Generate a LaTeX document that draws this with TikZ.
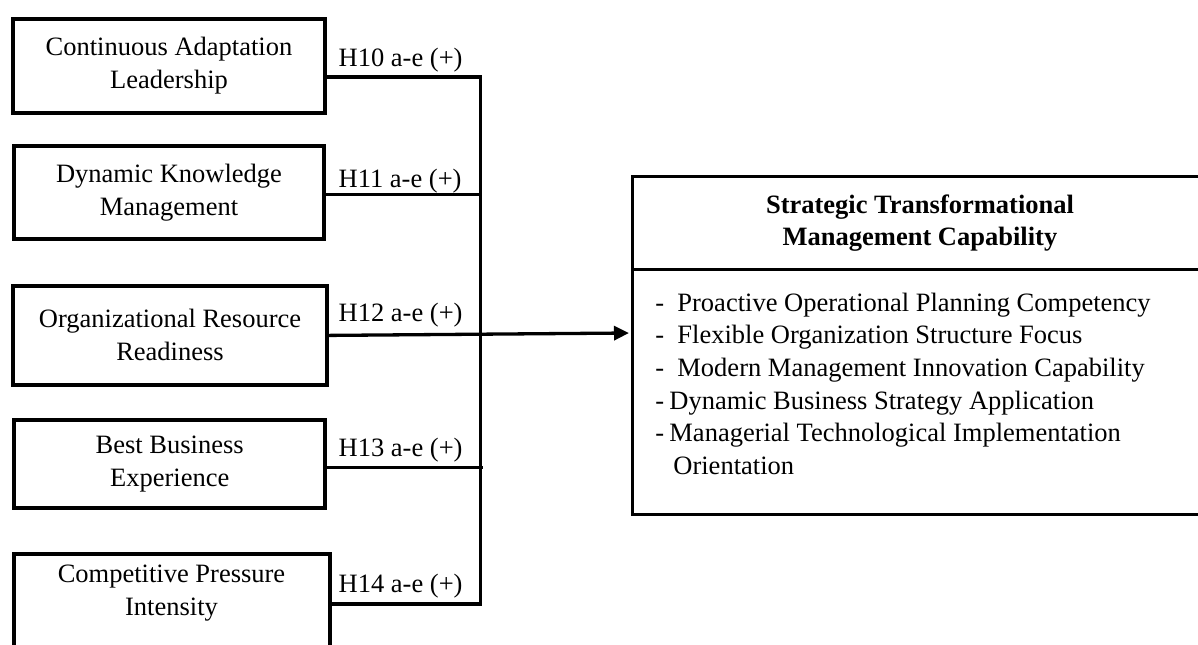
\documentclass[tikz,border=0pt]{standalone}
\usepackage{fontspec}
\setmainfont{Liberation Serif}
\usetikzlibrary{arrows.meta}

\tikzset{
  srcbox/.style={draw, line width=2pt, rectangle, inner sep=0pt, align=center,
    font=\fontsize{13.25pt}{16.5pt}\selectfont},
  srctext/.style={inner sep=0pt, align=center, font=\fontsize{13.25pt}{16.5pt}\selectfont},
  hyp/.style={anchor=base west, inner sep=0pt, font=\fontsize{13.25pt}{16pt}\selectfont},
  item/.style={anchor=base west, inner sep=0pt, font=\fontsize{13.25pt}{16pt}\selectfont},
  link/.style={line width=1.65pt},
  bigbox/.style={draw, line width=1.65pt}
}

\begin{document}
\begin{tikzpicture}[x=0.5pt, y=-0.5pt]
  \useasboundingbox (0,0) rectangle (1198,644);
  \fill[white] (0,0) rectangle (1198,644);
  \clip (0,0) rectangle (1198,644);

  % independent constructs
  \node[srcbox, minimum width=156pt, minimum height=46.85pt] (b1) at (169,65.9)
    {Continuous Adaptation\\Leadership};
  \node[srcbox, minimum width=155pt, minimum height=46.8pt] (b2) at (169,192.5)
    {Dynamic Knowledge\\Management};
  \node[srcbox, minimum width=157pt, minimum height=49.35pt] (b3) at (170,335.4)
    {Organizational Resource\\Readiness};
  \node[srcbox, minimum width=155.65pt, minimum height=44.15pt] (b4) at (169.7,463.9)
    {Best Business\\Experience};
  \node[srcbox, minimum width=158.15pt, minimum height=47.5pt] (b5) at (171.9,601.8) {};
  \node[srctext] (t5) at (171.5,593) {Competitive Pressure\\Intensity};

  % junction points on the collecting bus
  \coordinate (j1) at (480.7,77);
  \coordinate (j2) at (480.7,194.8);
  \coordinate (j4) at (483,467.5);
  \coordinate (j5) at (480.7,604);
  \coordinate (tip) at (629,333);

  \draw[link, line join=miter] (b1.east |- j1) -- (j1) -- (j5) -- (b5.east |- j5);
  \draw[link] (b2.east |- j2) -- (j2);
  \draw[link] (b4.east |- j4) -- (j4);
  \draw[link, -{Triangle[length=7.5pt, width=7pt]}] (b3.east) -- (tip);

  % hypothesis labels
  \node[hyp] (h10) at (338.3,66) {H10 a-e (+)};
  \node[hyp] (h11) at (338.3,187.5) {H11 a-e (+)};
  \node[hyp] (h12) at (338.3,321) {H12 a-e (+)};
  \node[hyp] (h13) at (338.3,456) {H13 a-e (+)};
  \node[hyp] (h14) at (338.3,592) {H14 a-e (+)};

  % outcome construct
  \draw[bigbox] (1212,176.7) -- (632.3,176.7) -- (632.3,514.5) -- (1212,514.5);
  \draw[bigbox] (632.3,269.3) -- (1212,269.3);
  \node[inner sep=0pt, align=center, font=\fontsize{13.25pt}{16pt}\selectfont\bfseries]
    (title) at (920,223) {Strategic Transformational\\Management Capability};

  \node[item] (l1) at (655,311) {-\hspace{6.6pt}Proactive Operational Planning Competency};
  \node[item] (l2) at (655,343.7) {-\hspace{6.6pt}Flexible Organization Structure Focus};
  \node[item] (l3) at (655,376.4) {-\hspace{6.6pt}Modern Management Innovation Capability};
  \node[item] (l4) at (655,409.1) {-\hspace{2.6pt}Dynamic Business Strategy Application};
  \node[item] (l5) at (655,441.8) {-\hspace{2.6pt}Managerial Technological Implementation};
  \node[item] (l6) at (673,474.5) {Orientation};
\end{tikzpicture}
\end{document}
